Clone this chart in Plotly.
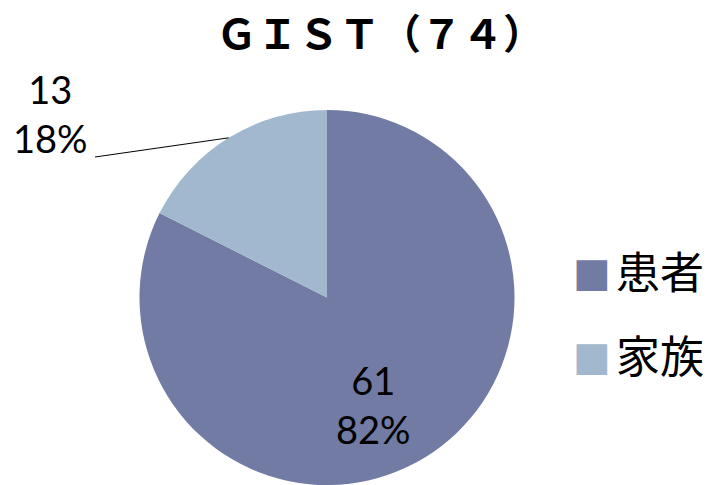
import math
import plotly.graph_objects as go

title_text = "ＧＩＳＴ（７４）"
labels = ["患者", "家族"]
values = [61, 13]
colors = ["#717BA3", "#A2B8CE"]

W, H = 716, 485
# pie geometry in pixels
cy_top, cy_bot = 110, 485
R = (cy_bot - cy_top) / 2
cx = 327
x0, x1 = (cx - R) / W, (cx + R) / W
y0, y1 = 1 - cy_bot / H, 1 - cy_top / H
cy = (cy_top + cy_bot) / 2

total = sum(values)
pct = [round(v / total * 100) for v in values]
texts = [f"{v}<br>{p}%" for v, p in zip(values, pct)]

LABEL_FONT = "Lato, sans-serif"

fig = go.Figure(go.Pie(
    labels=labels,
    values=values,
    marker=dict(colors=colors, line=dict(width=0)),
    sort=False,
    direction="clockwise",
    rotation=0,
    textinfo="none",
    domain=dict(x=[x0, x1], y=[y0, y1]),
    showlegend=False,
    hoverinfo="label+value+percent",
))

# inside label of the large slice (placed along its mid angle)
mid0 = math.radians(values[0] / total * 360 / 2 + 8)
r_in = 0.62 * R
ix = cx + r_in * math.sin(mid0)
iy = cy - r_in * math.cos(mid0)
fig.add_annotation(xref="paper", yref="paper", x=ix / W, y=1 - iy / H,
                   text=texts[0], showarrow=False, align="center",
                   xanchor="center", yanchor="middle",
                   font=dict(family=LABEL_FONT, size=38, color="black"))

# outside label for the small slice, with leader line from slice edge (mid angle)
start = values[0] / total * 360
mid = math.radians(start + values[1] / total * 360 / 2)
ex = cx + R * math.sin(mid)
ey = cy - R * math.cos(mid)
lx, ly = 95, 157
fig.add_shape(type="line", xref="paper", yref="paper",
              x0=ex / W, y0=1 - ey / H, x1=lx / W, y1=1 - ly / H,
              line=dict(color="black", width=1))
fig.add_annotation(xref="paper", yref="paper", x=50 / W, y=1 - 113 / H,
                   text=texts[1], showarrow=False, align="center",
                   xanchor="center", yanchor="middle",
                   font=dict(family=LABEL_FONT, size=38, color="black"))

# legend drawn as annotations
leg_y = [272, 356]
for lab, col, yy in zip(labels, colors, leg_y):
    fig.add_annotation(xref="paper", yref="paper", x=592 / W, y=1 - yy / H,
                       text="■", showarrow=False, xanchor="center", yanchor="middle",
                       font=dict(family="DejaVu Sans", size=40, color=col))
    fig.add_annotation(xref="paper", yref="paper", x=614 / W, y=1 - (yy - 2) / H,
                       text=lab, showarrow=False, xanchor="left", yanchor="middle",
                       font=dict(family="Noto Sans CJK JP", size=44, color="black"))

fig.update_layout(
    width=W, height=H,
    margin=dict(l=0, r=0, t=0, b=0),
    paper_bgcolor="white",
    plot_bgcolor="white",
    title=dict(text=title_text, x=380 / W, xanchor="center", y=1 - 35 / H, yanchor="middle",
               font=dict(family="Noto Sans CJK JP", size=41, color="black", weight="bold")),
)

fig.write_html("out.html", config={"displayModeBar": False},
               post_script="document.body.style.margin='0';")
